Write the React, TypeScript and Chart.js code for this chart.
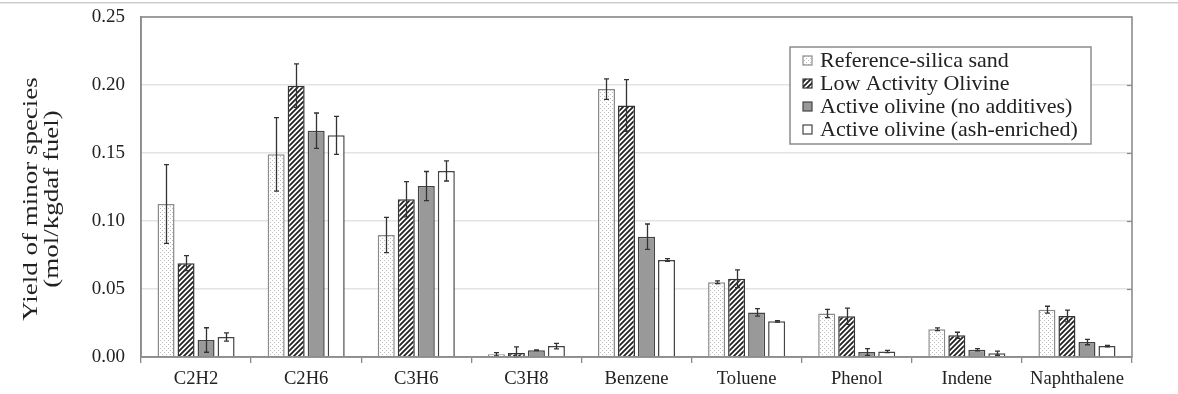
import React, { useEffect, useRef } from "react";
import { Chart, registerables } from "chart.js";

Chart.register(...registerables);

const categories = ["C2H2", "C2H6", "C3H6", "C3H8", "Benzene", "Toluene", "Phenol", "Indene", "Naphthalene"];
const seriesNames = [
  "Reference-silica sand",
  "Low Activity Olivine",
  "Active olivine (no additives)",
  "Active olivine (ash-enriched)",
];
const refSilica = [0.1125, 0.149, 0.0897, 0.002, 0.197, 0.055, 0.032, 0.0204, 0.0348];
const refSilicaErr = [0.029, 0.027, 0.013, 0.0012, 0.0075, 0.001, 0.003, 0.001, 0.0025];
const lowOlivine = [0.069, 0.1995, 0.116, 0.003, 0.185, 0.0575, 0.03, 0.016, 0.0302];
const lowOlivineErr = [0.0055, 0.016, 0.013, 0.0045, 0.019, 0.0065, 0.006, 0.0022, 0.0043];
const activeNoAdd = [0.0125, 0.1664, 0.1257, 0.005, 0.0885, 0.0328, 0.0037, 0.0054, 0.011];
const activeNoAddErr = [0.009, 0.013, 0.0107, 0.0003, 0.0093, 0.0027, 0.0025, 0.0008, 0.002];
const activeAsh = [0.0147, 0.163, 0.1368, 0.008, 0.0713, 0.0262, 0.004, 0.0028, 0.008];
const activeAshErr = [0.003, 0.014, 0.0074, 0.002, 0.001, 0.0006, 0.0008, 0.0015, 0.0005];
const yTitleLines = ["Yield of minor species", "(mol/kgdaf fuel)"];

const FONT = "'Liberation Serif', 'Times New Roman', serif";

function makeDotPattern(ctx: CanvasRenderingContext2D) {
  const c = document.createElement("canvas");
  c.width = 4;
  c.height = 4;
  const g = c.getContext("2d")!;
  g.fillStyle = "#ffffff";
  g.fillRect(0, 0, 4, 4);
  g.fillStyle = "#bdbdbd";
  g.fillRect(0, 0, 1, 1);
  g.fillRect(2, 2, 1, 1);
  return ctx.createPattern(c, "repeat")!;
}

function makeHatchPattern(ctx: CanvasRenderingContext2D) {
  const s = 5;
  const c = document.createElement("canvas");
  c.width = s;
  c.height = s;
  const g = c.getContext("2d")!;
  g.fillStyle = "#ffffff";
  g.fillRect(0, 0, s, s);
  g.strokeStyle = "#222222";
  g.lineWidth = 1.8;
  g.beginPath();
  g.moveTo(-1, s + 1);
  g.lineTo(s + 1, -1);
  g.moveTo(-1, 1);
  g.lineTo(1, -1);
  g.moveTo(s - 1, s + 1);
  g.lineTo(s + 1, s - 1);
  g.stroke();
  return ctx.createPattern(c, "repeat")!;
}

export default function App() {
  const ref = useRef<HTMLCanvasElement | null>(null);

  useEffect(() => {
    const canvas = ref.current!;
    const ctx = canvas.getContext("2d")!;
    const dot = makeDotPattern(ctx);
    const hatch = makeHatchPattern(ctx);

    const fills: any[] = [dot, hatch, "#999999", "#ffffff"];
    const borders = ["#8a8a8a", "#333333", "#444444", "#444444"];
    const values = [refSilica, lowOlivine, activeNoAdd, activeAsh];
    const errors = [refSilicaErr, lowOlivineErr, activeNoAddErr, activeAshErr];

    const decor = {
      id: "decor",
      beforeDraw(chart: any) {
        const c = chart.ctx;
        c.save();
        c.fillStyle = "#cccccc";
        c.fillRect(0, 2, chart.width, 1.5);
        c.restore();
      },
      afterDatasetsDraw(chart: any) {
        const c = chart.ctx;
        const ys = chart.scales.y;
        c.save();
        c.strokeStyle = "#333333";
        c.lineWidth = 1.3;
        chart.data.datasets.forEach((ds: any, di: number) => {
          const meta = chart.getDatasetMeta(di);
          meta.data.forEach((bar: any, i: number) => {
            const v = ds.data[i];
            const e = errors[di][i];
            const yt = ys.getPixelForValue(v + e);
            const yb = ys.getPixelForValue(Math.max(0, v - e));
            const x = Math.round(bar.x) + 0.5;
            c.beginPath();
            c.moveTo(x, yt);
            c.lineTo(x, yb);
            c.moveTo(x - 2.5, yt);
            c.lineTo(x + 2.5, yt);
            c.moveTo(x - 2.5, yb);
            c.lineTo(x + 2.5, yb);
            c.stroke();
          });
        });
        c.restore();
      },
      afterDraw(chart: any) {
        const c = chart.ctx;
        const a = chart.chartArea;
        const ys = chart.scales.y;
        c.save();
        c.strokeStyle = "#8c8c8c";
        c.lineWidth = 1.6;
        c.strokeRect(a.left, a.top, a.right - a.left, a.bottom - a.top);
        c.lineWidth = 1.3;
        for (let v = 0.05; v < 0.25; v += 0.05) {
          const y = Math.round(ys.getPixelForValue(v)) + 0.5;
          c.beginPath();
          c.moveTo(a.right - 5, y);
          c.lineTo(a.right, y);
          c.stroke();
        }
        c.fillStyle = "#222222";
        c.translate(32, 199);
        c.rotate(-Math.PI / 2);
        c.scale(1, 0.75);
        c.font = `27px ${FONT}`;
        c.textAlign = "center";
        c.textBaseline = "middle";
        c.fillText(yTitleLines[0], 0, 0);
        c.fillText(yTitleLines[1], 0, 27);
        c.restore();

        c.save();
        const lx = 790, ly = 47, lw = 301, lh = 97;
        c.fillStyle = "#ffffff";
        c.fillRect(lx, ly, lw, lh);
        c.strokeStyle = "#8c8c8c";
        c.lineWidth = 1.5;
        c.strokeRect(lx, ly, lw, lh);
        c.font = `22px ${FONT}`;
        c.textBaseline = "alphabetic";
        c.textAlign = "left";
        seriesNames.forEach((name, i) => {
          const base = 67 + i * 23;
          const my = base - 11;
          c.fillStyle = fills[i];
          c.fillRect(803, my, 9, 9);
          c.strokeStyle = borders[i];
          c.lineWidth = 1.2;
          c.strokeRect(803, my, 9, 9);
          c.fillStyle = "#222222";
          c.fillText(name, 820, base);
        });
        c.restore();
      },
    };

    const chart = new Chart(canvas, {
      type: "bar",
      data: {
        labels: categories,
        datasets: values.map((d, i) => ({
          label: seriesNames[i],
          data: d,
          backgroundColor: fills[i],
          borderColor: borders[i],
          borderWidth: 1.5,
          categoryPercentage: 0.727,
          barPercentage: 0.85,
        })),
      },
      options: {
        animation: false,
        responsive: false,
        maintainAspectRatio: false,
        layout: { padding: { left: 0, right: 46, top: 17, bottom: 0 } },
        plugins: {
          legend: { display: false },
          tooltip: { enabled: false },
        },
        scales: {
          x: {
            afterFit: (s: any) => {
              s.height = 37;
              s.paddingLeft = 0;
              s.paddingRight = 0;
            },
            grid: {
              offset: true,
              drawOnChartArea: false,
              drawTicks: true,
              tickLength: 6,
              color: "#888888",
              lineWidth: 1.3,
            },
            border: { display: true, color: "#8c8c8c", width: 1.6 },
            ticks: {
              color: "#222222",
              font: { family: FONT, size: 18.6 },
              padding: 5,
              maxRotation: 0,
            },
          },
          y: {
            min: 0,
            max: 0.25,
            afterFit: (s: any) => {
              s.width = 141;
              s.paddingTop = 0;
              s.paddingBottom = 0;
            },
            grid: {
              color: "#e3e3e3",
              lineWidth: 1.5,
              drawTicks: false,
            },
            border: { display: true, color: "#8c8c8c", width: 1.6 },
            ticks: {
              stepSize: 0.05,
              color: "#222222",
              font: { family: FONT, size: 19 },
              padding: 16,
              callback: (v: any) => Number(v).toFixed(2),
            },
          },
        },
      },
      plugins: [decor],
    });

    return () => chart.destroy();
  }, []);

  return (
    <div style={{ position: "fixed", left: 0, top: 0, width: 1178, height: 394, background: "#ffffff" }}>
      <canvas ref={ref} width={1178} height={394} style={{ width: 1178, height: 394, display: "block" }} />
    </div>
  );
}
